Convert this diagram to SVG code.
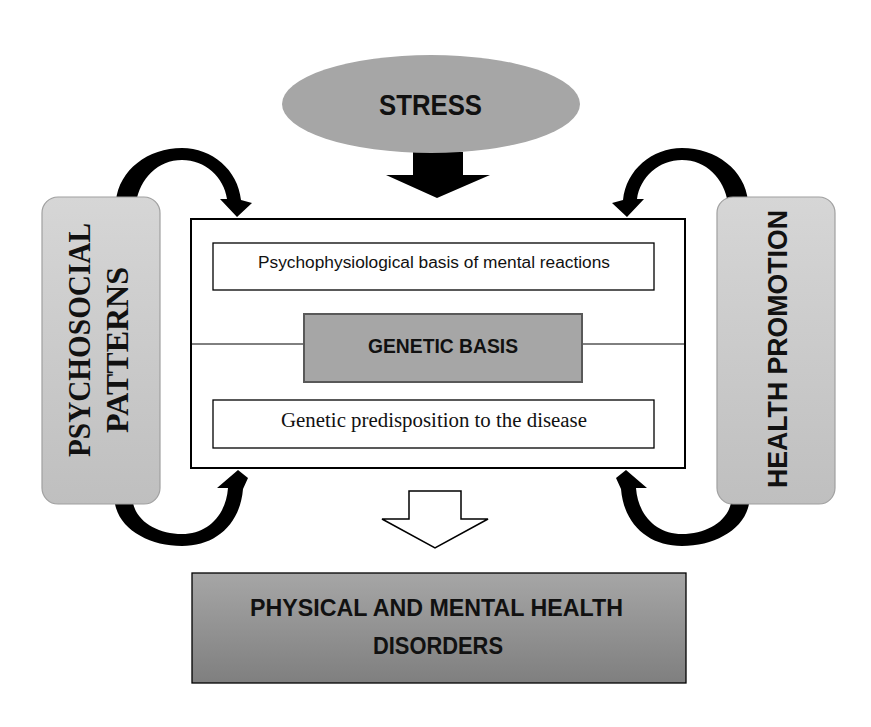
<svg xmlns="http://www.w3.org/2000/svg" width="871" height="727" viewBox="0 0 871 727">
<defs>
<linearGradient id="gSide" x1="0" y1="0" x2="0" y2="1">
<stop offset="0" stop-color="#d6d6d6"/><stop offset="1" stop-color="#bfbfbf"/>
</linearGradient>
<linearGradient id="gBottom" x1="0" y1="0" x2="0" y2="1">
<stop offset="0" stop-color="#a6a6a6"/><stop offset="1" stop-color="#7f7f7f"/>
</linearGradient>
<style>
.white{fill:#fff;stroke:#000;stroke-width:1.3}
.side{fill:url(#gSide);stroke:#a0a0a0;stroke-width:1.2}
.sans{font-family:"Liberation Sans",Arial,sans-serif;fill:#111}
.serif{font-family:"Liberation Serif","Times New Roman",serif;fill:#111}
.b{font-weight:bold}
.arr{fill:#000}
</style>
</defs>
<rect width="871" height="727" fill="#fff"/>
<g id="connectors">
<path class="arr" d="M116,201 C119,170 148,148 182,148 C212,148 238,170 241,200 L252,203 L237,217 L220,199 L227,199 C224,177 205,160 182,160 C158,160 140,178 136,203 Z"/>
<path class="arr" d="M748,201 C745,170 716,148 682,148 C652,148 626,170 623,200 L612,203 L627,217 L644,199 L637,199 C640,177 659,160 682,160 C706,160 724,178 728,203 Z"/>
<path class="arr" d="M115,504 C120,530 150,546 182,546 C215,546 240,525 243,489 L248,478 L238,470 L217,488 L228,488 C226,515 208,534 182,534 C158,534 137,522 133,503 Z"/>
<path class="arr" d="M749,504 C744,530 714,546 682,546 C649,546 624,525 621,489 L616,478 L626,470 L647,488 L636,488 C638,515 656,534 682,534 C706,534 727,522 731,503 Z"/>
<polygon class="arr" points="413,152 463,152 463,175 490,175 437,198 386,175 413,175"/>
<polygon fill="#fff" stroke="#000" stroke-width="1.5" points="409,491 461,491 461,519 488,519 435,548 382,519 409,519"/>
</g>
<g id="stress">
<ellipse cx="431" cy="104" rx="149" ry="49" fill="#a6a6a6"/>
<text class="sans b" x="430.5" y="115" font-size="30" text-anchor="middle" textLength="103" lengthAdjust="spacingAndGlyphs">STRESS</text>
</g>
<g id="psychosocial">
<rect class="side" x="42" y="197" width="118" height="307" rx="16"/>
<text class="serif b" transform="translate(90,340) rotate(-90)" font-size="32" text-anchor="middle" textLength="234" lengthAdjust="spacingAndGlyphs">PSYCHOSOCIAL</text>
<text class="serif b" transform="translate(128,350) rotate(-90)" font-size="32" text-anchor="middle" textLength="166" lengthAdjust="spacingAndGlyphs">PATTERNS</text>
</g>
<g id="health-promotion">
<rect class="side" x="717" y="197" width="118" height="307" rx="16"/>
<text class="sans b" transform="translate(787,349) rotate(-90)" font-size="27" text-anchor="middle" textLength="278" lengthAdjust="spacingAndGlyphs">HEALTH PROMOTION</text>
</g>
<g id="main-box">
<rect x="191" y="219" width="494" height="249" fill="#fff" stroke="#000" stroke-width="2"/>
<line x1="191" y1="344" x2="304" y2="344" stroke="#000" stroke-width="1"/>
<line x1="582" y1="344" x2="685" y2="344" stroke="#000" stroke-width="1"/>
</g>
<g id="psychophysiological">
<rect class="white" x="213" y="243" width="441" height="47"/>
<text class="sans" x="434" y="268" font-size="16" text-anchor="middle" textLength="352" lengthAdjust="spacingAndGlyphs">Psychophysiological  basis of mental  reactions</text>
</g>
<g id="genetic-basis">
<rect x="304" y="314" width="278" height="68" fill="#a6a6a6" stroke="#595959" stroke-width="2"/>
<text class="sans b" x="443" y="353" font-size="20" text-anchor="middle" textLength="150" lengthAdjust="spacingAndGlyphs">GENETIC BASIS</text>
</g>
<g id="genetic-predisposition">
<rect class="white" x="213" y="400" width="441" height="48"/>
<text class="serif" x="434" y="427" font-size="20" text-anchor="middle" textLength="306" lengthAdjust="spacingAndGlyphs">Genetic predisposition to the disease</text>
</g>
<g id="disorders">
<rect x="192" y="573" width="494" height="110" fill="url(#gBottom)" stroke="#000" stroke-width="1.3"/>
<text class="sans b" x="436.5" y="616" font-size="24" text-anchor="middle" textLength="373" lengthAdjust="spacingAndGlyphs">PHYSICAL AND MENTAL HEALTH</text>
<text class="sans b" x="438" y="654" font-size="24" text-anchor="middle" textLength="130" lengthAdjust="spacingAndGlyphs">DISORDERS</text>
</g>
</svg>
